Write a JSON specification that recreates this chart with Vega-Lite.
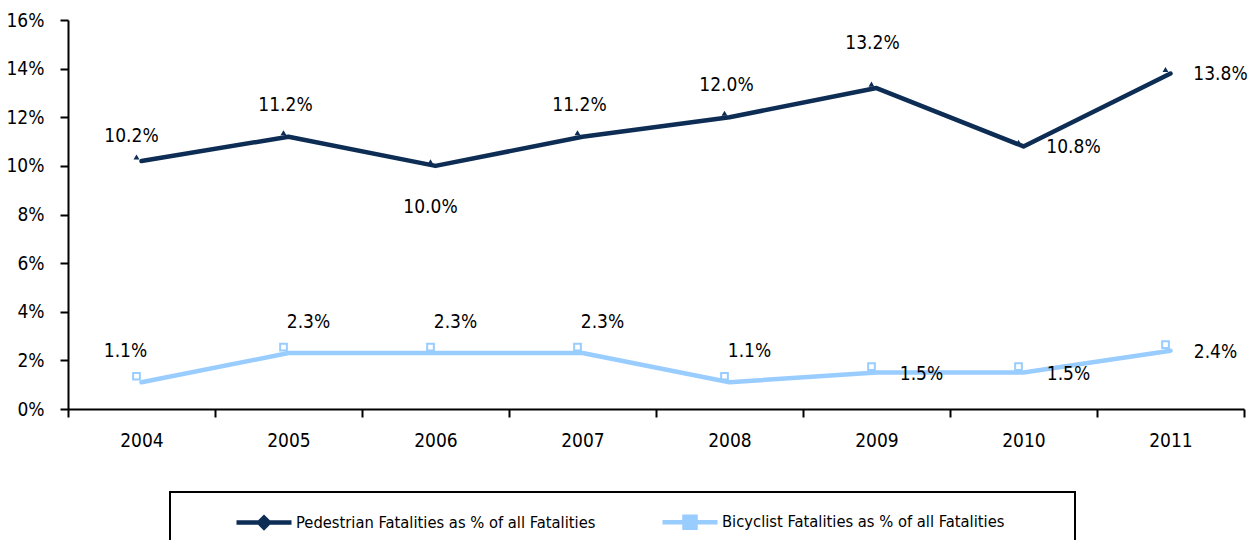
{
  "$schema": "https://vega.github.io/schema/vega-lite/v6.json",
  "width": 1176,
  "height": 389,
  "autosize": {"type": "none"},
  "padding": {"left": 68, "top": 20, "right": 12, "bottom": 131},
  "background": "white",
  "config": {"font": "DejaVu Sans Condensed, Liberation Sans, sans-serif", "view": {"stroke": null}},
  "data": {
    "values": [
      {"year": "2004", "series": "Pedestrian Fatalities as % of all Fatalities", "value": 0.102},
      {"year": "2005", "series": "Pedestrian Fatalities as % of all Fatalities", "value": 0.112},
      {"year": "2006", "series": "Pedestrian Fatalities as % of all Fatalities", "value": 0.100},
      {"year": "2007", "series": "Pedestrian Fatalities as % of all Fatalities", "value": 0.112},
      {"year": "2008", "series": "Pedestrian Fatalities as % of all Fatalities", "value": 0.120},
      {"year": "2009", "series": "Pedestrian Fatalities as % of all Fatalities", "value": 0.132},
      {"year": "2010", "series": "Pedestrian Fatalities as % of all Fatalities", "value": 0.108},
      {"year": "2011", "series": "Pedestrian Fatalities as % of all Fatalities", "value": 0.138},
      {"year": "2004", "series": "Bicyclist Fatalities as % of all Fatalities", "value": 0.011},
      {"year": "2005", "series": "Bicyclist Fatalities as % of all Fatalities", "value": 0.023},
      {"year": "2006", "series": "Bicyclist Fatalities as % of all Fatalities", "value": 0.023},
      {"year": "2007", "series": "Bicyclist Fatalities as % of all Fatalities", "value": 0.023},
      {"year": "2008", "series": "Bicyclist Fatalities as % of all Fatalities", "value": 0.011},
      {"year": "2009", "series": "Bicyclist Fatalities as % of all Fatalities", "value": 0.015},
      {"year": "2010", "series": "Bicyclist Fatalities as % of all Fatalities", "value": 0.015},
      {"year": "2011", "series": "Bicyclist Fatalities as % of all Fatalities", "value": 0.024}
    ]
  },
  "encoding": {
    "x": {
      "field": "year", "type": "ordinal", "bandPosition": 0.5,
      "scale": {"type": "band", "paddingInner": 0, "paddingOuter": 0},
      "axis": {
        "title": null, "labelAngle": 0, "tickBand": "extent",
        "domainColor": "black", "domainWidth": 2, "tickColor": "black", "tickWidth": 2, "tickSize": 8,
        "labelFontSize": 19, "labelColor": "black", "labelPadding": 14
      }
    },
    "y": {
      "field": "value", "type": "quantitative",
      "scale": {"domain": [0, 0.16], "nice": false},
      "axis": {
        "title": null, "grid": false, "format": ".0%",
        "values": [0, 0.02, 0.04, 0.06, 0.08, 0.1, 0.12, 0.14, 0.16],
        "domainColor": "black", "domainWidth": 2, "tickColor": "black", "tickWidth": 2, "tickSize": 8,
        "labelFontSize": 19, "labelColor": "black", "labelPadding": 16
      }
    }
  },
  "layer": [
    {
      "mark": {"type": "line", "strokeWidth": 4.5, "strokeJoin": "round", "strokeCap": "round"},
      "encoding": {
        "color": {
          "field": "series", "type": "nominal",
          "scale": {
            "domain": ["Pedestrian Fatalities as % of all Fatalities", "Bicyclist Fatalities as % of all Fatalities"],
            "range": ["#0d2d55", "#99ccff"]
          },
          "legend": {
            "orient": "none", "legendX": 102, "legendY": 472, "direction": "horizontal",
            "title": ["\u00a0", "\u00a0"], "titleOrient": "right", "titlePadding": 71, "titleFontSize": 40, "titleLineHeight": 40,
            "padding": 0, "strokeColor": "black",
            "symbolSize": 3025, "symbolStrokeWidth": 4.5, "symbolOffset": 64,
            "columnPadding": 0, "labelOffset": 2,
            "labelFontSize": 16.4, "labelColor": "black", "labelLimit": 400,
            "encode": {
              "legend": {"update": {"strokeWidth": {"value": 2}}},
              "symbols": {
                "update": {
                  "shape": {"signal": "datum.value === 'Pedestrian Fatalities as % of all Fatalities' ? 'M-1,0H1M-0.18,0L0,-0.18L0.18,0L0,0.18Z' : 'M-1,0H1M-0.2,-0.2H0.2V0.2H-0.2Z'"},
                  "fill": {"scale": "color", "field": "value"},
                  "stroke": {"scale": "color", "field": "value"},
                  "opacity": {"value": 1}
                }
              }
            }
          }
        }
      }
    },
    {
      "transform": [{"filter": "datum.series === 'Pedestrian Fatalities as % of all Fatalities'"}],
      "mark": {"type": "point", "shape": "triangle-up", "filled": true, "size": 35, "color": "#0d2d55", "opacity": 1, "xOffset": -5, "yOffset": -4}
    },
    {
      "transform": [{"filter": "datum.series === 'Bicyclist Fatalities as % of all Fatalities'"}],
      "mark": {"type": "square", "filled": false, "size": 45, "color": "#99ccff", "strokeWidth": 2, "opacity": 1, "xOffset": -5, "yOffset": -6}
    },
    {
      "transform": [{"filter": "datum.series === 'Pedestrian Fatalities as % of all Fatalities' && datum.year === '2004'"}],
      "mark": {"type": "text", "fontSize": 19, "color": "black", "dx": -10, "dy": -25},
      "encoding": {"text": {"field": "value", "type": "quantitative", "format": ".1%"}}
    },
    {
      "transform": [{"filter": "datum.series === 'Pedestrian Fatalities as % of all Fatalities' && indexof(['2005','2007','2008'], datum.year) >= 0"}],
      "mark": {"type": "text", "fontSize": 19, "color": "black", "dx": -3, "dy": -32},
      "encoding": {"text": {"field": "value", "type": "quantitative", "format": ".1%"}}
    },
    {
      "transform": [{"filter": "datum.series === 'Pedestrian Fatalities as % of all Fatalities' && datum.year === '2009'"}],
      "mark": {"type": "text", "fontSize": 19, "color": "black", "dx": -4, "dy": -45},
      "encoding": {"text": {"field": "value", "type": "quantitative", "format": ".1%"}}
    },
    {
      "transform": [{"filter": "datum.series === 'Pedestrian Fatalities as % of all Fatalities' && datum.year === '2006'"}],
      "mark": {"type": "text", "fontSize": 19, "color": "black", "dx": -5, "dy": 41},
      "encoding": {"text": {"field": "value", "type": "quantitative", "format": ".1%"}}
    },
    {
      "transform": [{"filter": "datum.series === 'Pedestrian Fatalities as % of all Fatalities' && indexof(['2010','2011'], datum.year) >= 0"}],
      "mark": {"type": "text", "fontSize": 19, "color": "black", "dx": 50, "dy": 1},
      "encoding": {"text": {"field": "value", "type": "quantitative", "format": ".1%"}}
    },
    {
      "transform": [{"filter": "datum.series === 'Bicyclist Fatalities as % of all Fatalities' && datum.year === '2004'"}],
      "mark": {"type": "text", "fontSize": 19, "color": "black", "dx": -16, "dy": -31},
      "encoding": {"text": {"field": "value", "type": "quantitative", "format": ".1%"}}
    },
    {
      "transform": [{"filter": "datum.series === 'Bicyclist Fatalities as % of all Fatalities' && indexof(['2005','2006','2007','2008'], datum.year) >= 0"}],
      "mark": {"type": "text", "fontSize": 19, "color": "black", "dx": 20, "dy": -31},
      "encoding": {"text": {"field": "value", "type": "quantitative", "format": ".1%"}}
    },
    {
      "transform": [{"filter": "datum.series === 'Bicyclist Fatalities as % of all Fatalities' && indexof(['2009','2010','2011'], datum.year) >= 0"}],
      "mark": {"type": "text", "fontSize": 19, "color": "black", "dx": 45, "dy": 1},
      "encoding": {"text": {"field": "value", "type": "quantitative", "format": ".1%"}}
    }
  ]
}
